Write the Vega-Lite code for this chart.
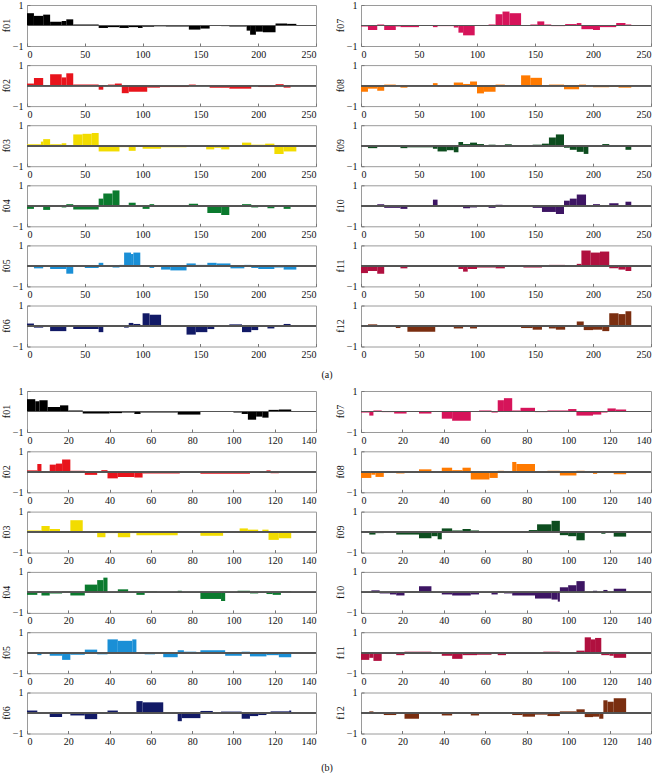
{
"$schema":"https://vega.github.io/schema/vega-lite/v6.json",
"padding":{"left":2,"top":-1,"right":0,"bottom":0},
"config":{"view":{"stroke":"#9a9a9a","strokeWidth":1},"font":"Liberation Serif",
"axis":{"labelFont":"Liberation Serif","labelFontSize":10,"labelColor":"#111","ticks":true,"tickSize":-3,"tickColor":"#777","domain":false,"grid":false,"title":null},
"axisX":{"labelPadding":6},"axisY":{"labelPadding":7},
"header":{"labelFont":"Liberation Serif","labelFontSize":10,"labelColor":"#111"},
"title":{"font":"Liberation Serif","fontSize":10,"fontWeight":"normal","color":"#111"}},
"datasets":{
"a":[
{"n":"f01","x0":0,"x1":6,"v":0.6},{"n":"f01","x0":6,"x1":14,"v":0.47},{"n":"f01","x0":14,"x1":20,"v":0.53},{"n":"f01","x0":20,"x1":30,"v":0.18},{"n":"f01","x0":30,"x1":34,"v":0.22},{"n":"f01","x0":34,"x1":40,"v":0.3},{"n":"f01","x0":40,"x1":62,"v":0.05},{"n":"f01","x0":62,"x1":70,"v":-0.12},{"n":"f01","x0":70,"x1":80,"v":-0.08},{"n":"f01","x0":80,"x1":88,"v":-0.12},{"n":"f01","x0":88,"x1":96,"v":-0.08},{"n":"f01","x0":96,"x1":100,"v":-0.12},{"n":"f01","x0":100,"x1":110,"v":-0.06},{"n":"f01","x0":110,"x1":120,"v":-0.04},{"n":"f01","x0":120,"x1":140,"v":-0.05},{"n":"f01","x0":140,"x1":150,"v":-0.2},{"n":"f01","x0":150,"x1":158,"v":-0.15},{"n":"f01","x0":158,"x1":168,"v":-0.02},{"n":"f01","x0":168,"x1":175,"v":-0.03},{"n":"f01","x0":175,"x1":190,"v":-0.05},{"n":"f01","x0":190,"x1":193,"v":-0.25},{"n":"f01","x0":193,"x1":198,"v":-0.45},{"n":"f01","x0":198,"x1":204,"v":-0.3},{"n":"f01","x0":204,"x1":215,"v":-0.33},{"n":"f01","x0":215,"x1":225,"v":0.1},{"n":"f01","x0":225,"x1":233,"v":0.08},
{"n":"f02","x0":0,"x1":6,"v":0.1},{"n":"f02","x0":6,"x1":14,"v":0.37},{"n":"f02","x0":14,"x1":20,"v":-0.03},{"n":"f02","x0":20,"x1":30,"v":0.55},{"n":"f02","x0":30,"x1":34,"v":0.4},{"n":"f02","x0":34,"x1":40,"v":0.6},{"n":"f02","x0":40,"x1":62,"v":0.05},{"n":"f02","x0":62,"x1":66,"v":-0.2},{"n":"f02","x0":66,"x1":70,"v":-0.03},{"n":"f02","x0":70,"x1":76,"v":0.05},{"n":"f02","x0":76,"x1":82,"v":0.1},{"n":"f02","x0":82,"x1":88,"v":-0.37},{"n":"f02","x0":88,"x1":104,"v":-0.3},{"n":"f02","x0":104,"x1":115,"v":-0.1},{"n":"f02","x0":115,"x1":140,"v":-0.07},{"n":"f02","x0":140,"x1":146,"v":0.05},{"n":"f02","x0":146,"x1":158,"v":-0.02},{"n":"f02","x0":158,"x1":175,"v":-0.1},{"n":"f02","x0":175,"x1":194,"v":-0.15},{"n":"f02","x0":200,"x1":215,"v":-0.07},{"n":"f02","x0":215,"x1":222,"v":0.07},{"n":"f02","x0":222,"x1":228,"v":-0.1},
{"n":"f03","x0":0,"x1":12,"v":0.07},{"n":"f03","x0":12,"x1":14,"v":0.2},{"n":"f03","x0":14,"x1":20,"v":0.32},{"n":"f03","x0":20,"x1":30,"v":0.07},{"n":"f03","x0":30,"x1":34,"v":0.12},{"n":"f03","x0":34,"x1":40,"v":0.03},{"n":"f03","x0":40,"x1":48,"v":0.55},{"n":"f03","x0":48,"x1":56,"v":0.58},{"n":"f03","x0":56,"x1":62,"v":0.62},{"n":"f03","x0":62,"x1":80,"v":-0.28},{"n":"f03","x0":80,"x1":88,"v":-0.07},{"n":"f03","x0":88,"x1":94,"v":-0.25},{"n":"f03","x0":94,"x1":100,"v":-0.05},{"n":"f03","x0":100,"x1":116,"v":-0.15},{"n":"f03","x0":116,"x1":138,"v":-0.07},{"n":"f03","x0":138,"x1":155,"v":-0.02},{"n":"f03","x0":155,"x1":162,"v":-0.18},{"n":"f03","x0":162,"x1":168,"v":-0.1},{"n":"f03","x0":168,"x1":175,"v":-0.18},{"n":"f03","x0":175,"x1":186,"v":-0.03},{"n":"f03","x0":186,"x1":194,"v":0.15},{"n":"f03","x0":194,"x1":206,"v":0.05},{"n":"f03","x0":206,"x1":214,"v":0.1},{"n":"f03","x0":214,"x1":222,"v":-0.4},{"n":"f03","x0":222,"x1":233,"v":-0.28},
{"n":"f04","x0":0,"x1":6,"v":-0.15},{"n":"f04","x0":6,"x1":14,"v":-0.05},{"n":"f04","x0":14,"x1":20,"v":-0.2},{"n":"f04","x0":20,"x1":30,"v":-0.03},{"n":"f04","x0":30,"x1":34,"v":-0.08},{"n":"f04","x0":34,"x1":40,"v":0.08},{"n":"f04","x0":40,"x1":62,"v":-0.18},{"n":"f04","x0":62,"x1":66,"v":0.35},{"n":"f04","x0":66,"x1":74,"v":0.6},{"n":"f04","x0":74,"x1":80,"v":0.75},{"n":"f04","x0":80,"x1":88,"v":0.02},{"n":"f04","x0":88,"x1":94,"v":0.15},{"n":"f04","x0":94,"x1":100,"v":-0.02},{"n":"f04","x0":100,"x1":106,"v":-0.15},{"n":"f04","x0":106,"x1":110,"v":0.08},{"n":"f04","x0":110,"x1":140,"v":-0.05},{"n":"f04","x0":140,"x1":148,"v":0.1},{"n":"f04","x0":148,"x1":156,"v":-0.02},{"n":"f04","x0":156,"x1":168,"v":-0.35},{"n":"f04","x0":168,"x1":175,"v":-0.45},{"n":"f04","x0":175,"x1":186,"v":-0.03},{"n":"f04","x0":186,"x1":194,"v":0.08},{"n":"f04","x0":194,"x1":200,"v":-0.08},{"n":"f04","x0":200,"x1":208,"v":-0.02},{"n":"f04","x0":208,"x1":214,"v":-0.12},{"n":"f04","x0":214,"x1":222,"v":-0.03},{"n":"f04","x0":222,"x1":228,"v":-0.15},{"n":"f04","x0":228,"x1":233,"v":0.02},
{"n":"f05","x0":0,"x1":6,"v":0.01},{"n":"f05","x0":6,"x1":14,"v":-0.12},{"n":"f05","x0":14,"x1":20,"v":-0.05},{"n":"f05","x0":20,"x1":34,"v":-0.15},{"n":"f05","x0":34,"x1":40,"v":-0.38},{"n":"f05","x0":40,"x1":50,"v":-0.01},{"n":"f05","x0":50,"x1":62,"v":-0.1},{"n":"f05","x0":62,"x1":66,"v":0.15},{"n":"f05","x0":66,"x1":74,"v":-0.05},{"n":"f05","x0":74,"x1":80,"v":-0.08},{"n":"f05","x0":80,"x1":84,"v":0.05},{"n":"f05","x0":84,"x1":90,"v":0.65},{"n":"f05","x0":90,"x1":92,"v":0.58},{"n":"f05","x0":92,"x1":98,"v":0.65},{"n":"f05","x0":98,"x1":100,"v":0.02},{"n":"f05","x0":100,"x1":106,"v":-0.05},{"n":"f05","x0":106,"x1":110,"v":-0.1},{"n":"f05","x0":110,"x1":116,"v":-0.03},{"n":"f05","x0":116,"x1":124,"v":-0.18},{"n":"f05","x0":124,"x1":138,"v":-0.22},{"n":"f05","x0":138,"x1":146,"v":0.12},{"n":"f05","x0":146,"x1":156,"v":0.05},{"n":"f05","x0":156,"x1":164,"v":0.15},{"n":"f05","x0":164,"x1":176,"v":0.12},{"n":"f05","x0":176,"x1":188,"v":-0.12},{"n":"f05","x0":188,"x1":194,"v":0.05},{"n":"f05","x0":194,"x1":200,"v":-0.1},{"n":"f05","x0":200,"x1":214,"v":-0.15},{"n":"f05","x0":214,"x1":222,"v":-0.08},{"n":"f05","x0":222,"x1":233,"v":-0.18},
{"n":"f06","x0":0,"x1":6,"v":0.12},{"n":"f06","x0":6,"x1":14,"v":-0.08},{"n":"f06","x0":14,"x1":20,"v":0.03},{"n":"f06","x0":20,"x1":34,"v":-0.25},{"n":"f06","x0":34,"x1":40,"v":-0.05},{"n":"f06","x0":40,"x1":62,"v":-0.15},{"n":"f06","x0":62,"x1":66,"v":-0.3},{"n":"f06","x0":66,"x1":84,"v":-0.02},{"n":"f06","x0":84,"x1":88,"v":-0.08},{"n":"f06","x0":88,"x1":92,"v":0.15},{"n":"f06","x0":92,"x1":98,"v":0.1},{"n":"f06","x0":98,"x1":100,"v":-0.05},{"n":"f06","x0":100,"x1":106,"v":0.62},{"n":"f06","x0":106,"x1":116,"v":0.55},{"n":"f06","x0":116,"x1":124,"v":0.01},{"n":"f06","x0":124,"x1":138,"v":-0.05},{"n":"f06","x0":138,"x1":146,"v":-0.42},{"n":"f06","x0":146,"x1":156,"v":-0.3},{"n":"f06","x0":156,"x1":162,"v":-0.15},{"n":"f06","x0":162,"x1":168,"v":0.05},{"n":"f06","x0":168,"x1":175,"v":-0.02},{"n":"f06","x0":175,"x1":186,"v":0.08},{"n":"f06","x0":186,"x1":194,"v":-0.3},{"n":"f06","x0":194,"x1":200,"v":-0.2},{"n":"f06","x0":200,"x1":208,"v":0.02},{"n":"f06","x0":208,"x1":214,"v":-0.12},{"n":"f06","x0":214,"x1":222,"v":-0.05},{"n":"f06","x0":222,"x1":228,"v":0.1},{"n":"f06","x0":228,"x1":233,"v":0.05},
{"n":"f07","x0":0,"x1":6,"v":-0.05},{"n":"f07","x0":6,"x1":14,"v":-0.22},{"n":"f07","x0":14,"x1":20,"v":0.05},{"n":"f07","x0":20,"x1":30,"v":-0.22},{"n":"f07","x0":30,"x1":34,"v":-0.05},{"n":"f07","x0":34,"x1":50,"v":-0.08},{"n":"f07","x0":50,"x1":62,"v":-0.02},{"n":"f07","x0":62,"x1":66,"v":-0.08},{"n":"f07","x0":66,"x1":80,"v":-0.03},{"n":"f07","x0":80,"x1":84,"v":-0.1},{"n":"f07","x0":84,"x1":88,"v":-0.35},{"n":"f07","x0":88,"x1":98,"v":-0.48},{"n":"f07","x0":98,"x1":110,"v":0.01},{"n":"f07","x0":110,"x1":116,"v":0.05},{"n":"f07","x0":116,"x1":122,"v":0.55},{"n":"f07","x0":122,"x1":128,"v":0.68},{"n":"f07","x0":128,"x1":138,"v":0.6},{"n":"f07","x0":138,"x1":146,"v":0.01},{"n":"f07","x0":146,"x1":152,"v":0.05},{"n":"f07","x0":152,"x1":158,"v":0.2},{"n":"f07","x0":158,"x1":164,"v":0.05},{"n":"f07","x0":164,"x1":176,"v":-0.03},{"n":"f07","x0":176,"x1":186,"v":0.07},{"n":"f07","x0":186,"x1":190,"v":0.12},{"n":"f07","x0":190,"x1":200,"v":-0.18},{"n":"f07","x0":200,"x1":206,"v":-0.22},{"n":"f07","x0":206,"x1":220,"v":-0.08},{"n":"f07","x0":220,"x1":228,"v":0.12},{"n":"f07","x0":228,"x1":233,"v":0.05},
{"n":"f08","x0":0,"x1":6,"v":-0.3},{"n":"f08","x0":6,"x1":14,"v":-0.15},{"n":"f08","x0":14,"x1":20,"v":-0.25},{"n":"f08","x0":20,"x1":30,"v":0.05},{"n":"f08","x0":30,"x1":34,"v":-0.02},{"n":"f08","x0":34,"x1":40,"v":-0.1},{"n":"f08","x0":40,"x1":62,"v":-0.02},{"n":"f08","x0":62,"x1":66,"v":0.12},{"n":"f08","x0":66,"x1":80,"v":-0.05},{"n":"f08","x0":80,"x1":88,"v":0.15},{"n":"f08","x0":88,"x1":94,"v":0.08},{"n":"f08","x0":94,"x1":100,"v":0.2},{"n":"f08","x0":100,"x1":106,"v":-0.38},{"n":"f08","x0":106,"x1":116,"v":-0.3},{"n":"f08","x0":116,"x1":124,"v":0.05},{"n":"f08","x0":124,"x1":138,"v":0.02},{"n":"f08","x0":138,"x1":146,"v":0.5},{"n":"f08","x0":146,"x1":156,"v":0.38},{"n":"f08","x0":156,"x1":162,"v":0.01},{"n":"f08","x0":162,"x1":175,"v":0.05},{"n":"f08","x0":175,"x1":188,"v":-0.18},{"n":"f08","x0":188,"x1":194,"v":0.05},{"n":"f08","x0":194,"x1":200,"v":0.02},{"n":"f08","x0":200,"x1":214,"v":-0.08},{"n":"f08","x0":214,"x1":222,"v":-0.05},{"n":"f08","x0":222,"x1":233,"v":-0.1},
{"n":"f09","x0":6,"x1":14,"v":-0.12},{"n":"f09","x0":14,"x1":34,"v":-0.05},{"n":"f09","x0":34,"x1":40,"v":-0.12},{"n":"f09","x0":40,"x1":62,"v":-0.08},{"n":"f09","x0":62,"x1":66,"v":-0.15},{"n":"f09","x0":66,"x1":74,"v":-0.28},{"n":"f09","x0":74,"x1":80,"v":-0.22},{"n":"f09","x0":80,"x1":84,"v":-0.32},{"n":"f09","x0":84,"x1":88,"v":0.18},{"n":"f09","x0":88,"x1":94,"v":0.08},{"n":"f09","x0":94,"x1":100,"v":0.15},{"n":"f09","x0":100,"x1":106,"v":0.08},{"n":"f09","x0":106,"x1":110,"v":0.01},{"n":"f09","x0":110,"x1":116,"v":0.05},{"n":"f09","x0":116,"x1":124,"v":0.01},{"n":"f09","x0":124,"x1":130,"v":0.07},{"n":"f09","x0":130,"x1":148,"v":0.01},{"n":"f09","x0":148,"x1":156,"v":0.05},{"n":"f09","x0":156,"x1":162,"v":0.1},{"n":"f09","x0":162,"x1":168,"v":0.4},{"n":"f09","x0":168,"x1":175,"v":0.55},{"n":"f09","x0":175,"x1":180,"v":-0.1},{"n":"f09","x0":180,"x1":186,"v":-0.2},{"n":"f09","x0":186,"x1":192,"v":-0.3},{"n":"f09","x0":192,"x1":196,"v":-0.4},{"n":"f09","x0":196,"x1":208,"v":-0.02},{"n":"f09","x0":208,"x1":214,"v":0.08},{"n":"f09","x0":214,"x1":222,"v":-0.05},{"n":"f09","x0":222,"x1":228,"v":0.02},{"n":"f09","x0":228,"x1":233,"v":-0.2},
{"n":"f10","x0":0,"x1":14,"v":-0.02},{"n":"f10","x0":14,"x1":20,"v":0.08},{"n":"f10","x0":20,"x1":34,"v":-0.1},{"n":"f10","x0":34,"x1":40,"v":-0.15},{"n":"f10","x0":40,"x1":62,"v":0.02},{"n":"f10","x0":62,"x1":66,"v":0.3},{"n":"f10","x0":66,"x1":80,"v":0.01},{"n":"f10","x0":80,"x1":88,"v":-0.05},{"n":"f10","x0":88,"x1":94,"v":-0.12},{"n":"f10","x0":94,"x1":100,"v":-0.08},{"n":"f10","x0":100,"x1":110,"v":0.01},{"n":"f10","x0":110,"x1":116,"v":-0.1},{"n":"f10","x0":116,"x1":122,"v":0.05},{"n":"f10","x0":122,"x1":128,"v":-0.05},{"n":"f10","x0":128,"x1":140,"v":0.01},{"n":"f10","x0":140,"x1":148,"v":-0.03},{"n":"f10","x0":148,"x1":156,"v":-0.1},{"n":"f10","x0":156,"x1":168,"v":-0.3},{"n":"f10","x0":168,"x1":175,"v":-0.4},{"n":"f10","x0":175,"x1":180,"v":0.25},{"n":"f10","x0":180,"x1":186,"v":0.35},{"n":"f10","x0":186,"x1":194,"v":0.55},{"n":"f10","x0":194,"x1":200,"v":0.01},{"n":"f10","x0":200,"x1":206,"v":0.08},{"n":"f10","x0":206,"x1":214,"v":0.01},{"n":"f10","x0":214,"x1":222,"v":0.12},{"n":"f10","x0":222,"x1":228,"v":0.02},{"n":"f10","x0":228,"x1":233,"v":0.2},
{"n":"f11","x0":0,"x1":6,"v":-0.35},{"n":"f11","x0":6,"x1":14,"v":-0.25},{"n":"f11","x0":14,"x1":20,"v":-0.38},{"n":"f11","x0":20,"x1":34,"v":-0.05},{"n":"f11","x0":34,"x1":40,"v":-0.12},{"n":"f11","x0":40,"x1":62,"v":0.03},{"n":"f11","x0":62,"x1":66,"v":0.02},{"n":"f11","x0":66,"x1":84,"v":0.01},{"n":"f11","x0":84,"x1":88,"v":-0.15},{"n":"f11","x0":88,"x1":92,"v":-0.28},{"n":"f11","x0":92,"x1":100,"v":-0.15},{"n":"f11","x0":100,"x1":116,"v":-0.08},{"n":"f11","x0":116,"x1":124,"v":-0.12},{"n":"f11","x0":124,"x1":140,"v":-0.05},{"n":"f11","x0":140,"x1":156,"v":-0.08},{"n":"f11","x0":156,"x1":162,"v":0.01},{"n":"f11","x0":162,"x1":176,"v":0.05},{"n":"f11","x0":176,"x1":186,"v":0.02},{"n":"f11","x0":186,"x1":190,"v":0.1},{"n":"f11","x0":190,"x1":198,"v":0.75},{"n":"f11","x0":198,"x1":206,"v":0.65},{"n":"f11","x0":206,"x1":214,"v":0.7},{"n":"f11","x0":214,"x1":222,"v":-0.12},{"n":"f11","x0":222,"x1":228,"v":-0.18},{"n":"f11","x0":228,"x1":233,"v":-0.25},
{"n":"f12","x0":0,"x1":6,"v":0.02},{"n":"f12","x0":6,"x1":14,"v":0.08},{"n":"f12","x0":14,"x1":30,"v":0.01},{"n":"f12","x0":30,"x1":34,"v":-0.1},{"n":"f12","x0":34,"x1":40,"v":0.01},{"n":"f12","x0":40,"x1":64,"v":-0.28},{"n":"f12","x0":64,"x1":80,"v":-0.05},{"n":"f12","x0":80,"x1":88,"v":-0.12},{"n":"f12","x0":88,"x1":94,"v":0.01},{"n":"f12","x0":94,"x1":100,"v":-0.12},{"n":"f12","x0":100,"x1":110,"v":0.05},{"n":"f12","x0":110,"x1":124,"v":0.02},{"n":"f12","x0":124,"x1":138,"v":-0.02},{"n":"f12","x0":138,"x1":148,"v":-0.1},{"n":"f12","x0":148,"x1":156,"v":-0.18},{"n":"f12","x0":156,"x1":162,"v":-0.05},{"n":"f12","x0":162,"x1":168,"v":-0.12},{"n":"f12","x0":168,"x1":176,"v":-0.18},{"n":"f12","x0":176,"x1":186,"v":0.05},{"n":"f12","x0":186,"x1":192,"v":0.22},{"n":"f12","x0":192,"x1":200,"v":-0.2},{"n":"f12","x0":200,"x1":208,"v":-0.18},{"n":"f12","x0":208,"x1":214,"v":-0.25},{"n":"f12","x0":214,"x1":222,"v":0.62},{"n":"f12","x0":222,"x1":228,"v":0.58},{"n":"f12","x0":228,"x1":233,"v":0.72}
],
"b":[
{"n":"f01","x0":0,"x1":4,"v":0.6},{"n":"f01","x0":4,"x1":6,"v":0.5},{"n":"f01","x0":6,"x1":10,"v":0.55},{"n":"f01","x0":10,"x1":16,"v":0.22},{"n":"f01","x0":16,"x1":20,"v":0.3},{"n":"f01","x0":20,"x1":27,"v":0.05},{"n":"f01","x0":27,"x1":40,"v":-0.1},{"n":"f01","x0":40,"x1":46,"v":-0.08},{"n":"f01","x0":46,"x1":52,"v":-0.05},{"n":"f01","x0":52,"x1":55,"v":-0.12},{"n":"f01","x0":55,"x1":73,"v":-0.05},{"n":"f01","x0":73,"x1":84,"v":-0.15},{"n":"f01","x0":84,"x1":100,"v":-0.02},{"n":"f01","x0":100,"x1":104,"v":-0.05},{"n":"f01","x0":104,"x1":107,"v":-0.12},{"n":"f01","x0":107,"x1":111,"v":-0.4},{"n":"f01","x0":111,"x1":114,"v":-0.25},{"n":"f01","x0":114,"x1":117,"v":-0.3},{"n":"f01","x0":117,"x1":122,"v":0.08},{"n":"f01","x0":122,"x1":128,"v":0.1},
{"n":"f02","x0":0,"x1":5,"v":0.07},{"n":"f02","x0":5,"x1":7,"v":0.38},{"n":"f02","x0":7,"x1":11,"v":-0.02},{"n":"f02","x0":11,"x1":14,"v":0.35},{"n":"f02","x0":14,"x1":17,"v":0.4},{"n":"f02","x0":17,"x1":21,"v":0.6},{"n":"f02","x0":21,"x1":28,"v":0.05},{"n":"f02","x0":28,"x1":34,"v":-0.15},{"n":"f02","x0":36,"x1":39,"v":0.08},{"n":"f02","x0":39,"x1":44,"v":-0.32},{"n":"f02","x0":44,"x1":52,"v":-0.25},{"n":"f02","x0":52,"x1":56,"v":-0.28},{"n":"f02","x0":56,"x1":74,"v":-0.08},{"n":"f02","x0":74,"x1":76,"v":0.04},{"n":"f02","x0":76,"x1":84,"v":-0.02},{"n":"f02","x0":84,"x1":108,"v":-0.1},{"n":"f02","x0":112,"x1":116,"v":-0.05},{"n":"f02","x0":116,"x1":118,"v":0.07},{"n":"f02","x0":118,"x1":122,"v":-0.07},
{"n":"f03","x0":0,"x1":7,"v":0.08},{"n":"f03","x0":7,"x1":11,"v":0.3},{"n":"f03","x0":11,"x1":16,"v":0.15},{"n":"f03","x0":16,"x1":21,"v":0.05},{"n":"f03","x0":21,"x1":27,"v":0.58},{"n":"f03","x0":34,"x1":38,"v":-0.25},{"n":"f03","x0":38,"x1":44,"v":-0.05},{"n":"f03","x0":44,"x1":50,"v":-0.25},{"n":"f03","x0":50,"x1":53,"v":-0.05},{"n":"f03","x0":53,"x1":73,"v":-0.15},{"n":"f03","x0":73,"x1":84,"v":-0.02},{"n":"f03","x0":84,"x1":95,"v":-0.18},{"n":"f03","x0":95,"x1":103,"v":-0.02},{"n":"f03","x0":103,"x1":107,"v":0.18},{"n":"f03","x0":107,"x1":112,"v":0.12},{"n":"f03","x0":114,"x1":117,"v":0.12},{"n":"f03","x0":117,"x1":122,"v":-0.38},{"n":"f03","x0":122,"x1":128,"v":-0.3},
{"n":"f04","x0":0,"x1":5,"v":-0.12},{"n":"f04","x0":5,"x1":7,"v":0.05},{"n":"f04","x0":7,"x1":11,"v":-0.15},{"n":"f04","x0":11,"x1":17,"v":-0.05},{"n":"f04","x0":17,"x1":21,"v":0.05},{"n":"f04","x0":21,"x1":28,"v":-0.15},{"n":"f04","x0":28,"x1":34,"v":0.38},{"n":"f04","x0":34,"x1":37,"v":0.6},{"n":"f04","x0":37,"x1":39,"v":0.72},{"n":"f04","x0":44,"x1":49,"v":0.15},{"n":"f04","x0":53,"x1":57,"v":-0.12},{"n":"f04","x0":57,"x1":63,"v":0.05},{"n":"f04","x0":63,"x1":73,"v":-0.02},{"n":"f04","x0":73,"x1":75,"v":0.08},{"n":"f04","x0":75,"x1":84,"v":0.02},{"n":"f04","x0":84,"x1":94,"v":-0.32},{"n":"f04","x0":94,"x1":96,"v":-0.42},{"n":"f04","x0":96,"x1":102,"v":0.02},{"n":"f04","x0":102,"x1":108,"v":0.08},{"n":"f04","x0":108,"x1":112,"v":-0.05},{"n":"f04","x0":116,"x1":119,"v":-0.08},{"n":"f04","x0":119,"x1":123,"v":-0.12},{"n":"f04","x0":123,"x1":128,"v":0.05},
{"n":"f05","x0":5,"x1":7,"v":-0.12},{"n":"f05","x0":11,"x1":17,"v":-0.15},{"n":"f05","x0":17,"x1":21,"v":-0.35},{"n":"f05","x0":21,"x1":28,"v":-0.1},{"n":"f05","x0":28,"x1":34,"v":0.15},{"n":"f05","x0":34,"x1":39,"v":-0.08},{"n":"f05","x0":39,"x1":44,"v":0.65},{"n":"f05","x0":44,"x1":51,"v":0.58},{"n":"f05","x0":51,"x1":53,"v":0.65},{"n":"f05","x0":57,"x1":62,"v":-0.08},{"n":"f05","x0":66,"x1":73,"v":-0.22},{"n":"f05","x0":73,"x1":76,"v":0.12},{"n":"f05","x0":76,"x1":82,"v":0.05},{"n":"f05","x0":84,"x1":96,"v":0.12},{"n":"f05","x0":96,"x1":104,"v":-0.15},{"n":"f05","x0":104,"x1":108,"v":0.05},{"n":"f05","x0":108,"x1":116,"v":-0.18},{"n":"f05","x0":116,"x1":122,"v":-0.12},{"n":"f05","x0":122,"x1":128,"v":-0.22},
{"n":"f06","x0":0,"x1":5,"v":0.12},{"n":"f06","x0":5,"x1":7,"v":-0.05},{"n":"f06","x0":11,"x1":17,"v":-0.2},{"n":"f06","x0":21,"x1":28,"v":-0.12},{"n":"f06","x0":28,"x1":34,"v":-0.3},{"n":"f06","x0":36,"x1":39,"v":-0.05},{"n":"f06","x0":39,"x1":44,"v":0.12},{"n":"f06","x0":44,"x1":53,"v":-0.03},{"n":"f06","x0":53,"x1":56,"v":0.58},{"n":"f06","x0":56,"x1":66,"v":0.52},{"n":"f06","x0":70,"x1":73,"v":-0.05},{"n":"f06","x0":73,"x1":75,"v":-0.4},{"n":"f06","x0":75,"x1":84,"v":-0.25},{"n":"f06","x0":84,"x1":90,"v":0.1},{"n":"f06","x0":94,"x1":104,"v":0.07},{"n":"f06","x0":104,"x1":108,"v":-0.28},{"n":"f06","x0":108,"x1":112,"v":-0.15},{"n":"f06","x0":112,"x1":116,"v":-0.1},{"n":"f06","x0":116,"x1":118,"v":-0.05},{"n":"f06","x0":118,"x1":127,"v":0.08},{"n":"f06","x0":127,"x1":128,"v":0.12},
{"n":"f07","x0":0,"x1":4,"v":-0.05},{"n":"f07","x0":4,"x1":6,"v":-0.2},{"n":"f07","x0":6,"x1":10,"v":0.05},{"n":"f07","x0":10,"x1":16,"v":-0.03},{"n":"f07","x0":16,"x1":22,"v":-0.1},{"n":"f07","x0":28,"x1":34,"v":-0.1},{"n":"f07","x0":39,"x1":44,"v":-0.35},{"n":"f07","x0":44,"x1":53,"v":-0.45},{"n":"f07","x0":57,"x1":63,"v":0.05},{"n":"f07","x0":63,"x1":66,"v":-0.05},{"n":"f07","x0":66,"x1":69,"v":0.55},{"n":"f07","x0":69,"x1":73,"v":0.65},{"n":"f07","x0":73,"x1":77,"v":0.05},{"n":"f07","x0":77,"x1":84,"v":0.18},{"n":"f07","x0":84,"x1":90,"v":-0.03},{"n":"f07","x0":90,"x1":100,"v":0.05},{"n":"f07","x0":100,"x1":104,"v":0.12},{"n":"f07","x0":104,"x1":112,"v":-0.2},{"n":"f07","x0":112,"x1":116,"v":-0.15},{"n":"f07","x0":116,"x1":119,"v":-0.05},{"n":"f07","x0":119,"x1":123,"v":0.15},{"n":"f07","x0":123,"x1":128,"v":0.1},
{"n":"f08","x0":0,"x1":5,"v":-0.3},{"n":"f08","x0":5,"x1":7,"v":-0.15},{"n":"f08","x0":7,"x1":11,"v":-0.25},{"n":"f08","x0":17,"x1":21,"v":-0.08},{"n":"f08","x0":21,"x1":28,"v":-0.03},{"n":"f08","x0":28,"x1":34,"v":0.12},{"n":"f08","x0":39,"x1":44,"v":0.2},{"n":"f08","x0":44,"x1":49,"v":0.08},{"n":"f08","x0":49,"x1":53,"v":0.2},{"n":"f08","x0":53,"x1":62,"v":-0.38},{"n":"f08","x0":62,"x1":66,"v":-0.3},{"n":"f08","x0":66,"x1":69,"v":0.05},{"n":"f08","x0":73,"x1":75,"v":0.48},{"n":"f08","x0":75,"x1":84,"v":0.38},{"n":"f08","x0":90,"x1":96,"v":0.05},{"n":"f08","x0":96,"x1":104,"v":-0.18},{"n":"f08","x0":104,"x1":108,"v":0.05},{"n":"f08","x0":112,"x1":114,"v":-0.1},{"n":"f08","x0":114,"x1":122,"v":-0.05},{"n":"f08","x0":122,"x1":128,"v":-0.12},
{"n":"f09","x0":4,"x1":7,"v":-0.12},{"n":"f09","x0":7,"x1":11,"v":-0.05},{"n":"f09","x0":17,"x1":28,"v":-0.12},{"n":"f09","x0":28,"x1":34,"v":-0.3},{"n":"f09","x0":34,"x1":37,"v":-0.2},{"n":"f09","x0":37,"x1":39,"v":-0.35},{"n":"f09","x0":39,"x1":44,"v":0.18},{"n":"f09","x0":44,"x1":49,"v":0.08},{"n":"f09","x0":49,"x1":53,"v":0.15},{"n":"f09","x0":53,"x1":57,"v":0.08},{"n":"f09","x0":57,"x1":60,"v":-0.02},{"n":"f09","x0":60,"x1":63,"v":0.05},{"n":"f09","x0":68,"x1":72,"v":0.05},{"n":"f09","x0":77,"x1":81,"v":0.05},{"n":"f09","x0":81,"x1":85,"v":0.1},{"n":"f09","x0":85,"x1":92,"v":0.38},{"n":"f09","x0":92,"x1":96,"v":0.55},{"n":"f09","x0":96,"x1":100,"v":-0.15},{"n":"f09","x0":100,"x1":104,"v":-0.2},{"n":"f09","x0":104,"x1":108,"v":-0.4},{"n":"f09","x0":112,"x1":116,"v":0.05},{"n":"f09","x0":116,"x1":118,"v":-0.08},{"n":"f09","x0":122,"x1":128,"v":-0.22},
{"n":"f10","x0":0,"x1":5,"v":-0.02},{"n":"f10","x0":5,"x1":9,"v":0.1},{"n":"f10","x0":9,"x1":14,"v":-0.05},{"n":"f10","x0":14,"x1":17,"v":-0.1},{"n":"f10","x0":17,"x1":21,"v":-0.15},{"n":"f10","x0":21,"x1":28,"v":0.05},{"n":"f10","x0":28,"x1":34,"v":0.3},{"n":"f10","x0":39,"x1":44,"v":-0.1},{"n":"f10","x0":44,"x1":53,"v":-0.15},{"n":"f10","x0":53,"x1":57,"v":-0.1},{"n":"f10","x0":63,"x1":66,"v":-0.1},{"n":"f10","x0":66,"x1":69,"v":0.05},{"n":"f10","x0":69,"x1":73,"v":-0.05},{"n":"f10","x0":73,"x1":84,"v":-0.15},{"n":"f10","x0":84,"x1":92,"v":-0.3},{"n":"f10","x0":92,"x1":95,"v":-0.35},{"n":"f10","x0":95,"x1":96,"v":-0.45},{"n":"f10","x0":96,"x1":100,"v":0.25},{"n":"f10","x0":100,"x1":104,"v":0.35},{"n":"f10","x0":104,"x1":108,"v":0.55},{"n":"f10","x0":112,"x1":114,"v":0.08},{"n":"f10","x0":117,"x1":119,"v":0.12},{"n":"f10","x0":119,"x1":122,"v":0.02},{"n":"f10","x0":122,"x1":128,"v":0.18},
{"n":"f11","x0":0,"x1":4,"v":-0.35},{"n":"f11","x0":4,"x1":6,"v":-0.25},{"n":"f11","x0":6,"x1":10,"v":-0.4},{"n":"f11","x0":10,"x1":17,"v":-0.05},{"n":"f11","x0":17,"x1":21,"v":-0.12},{"n":"f11","x0":21,"x1":34,"v":0.05},{"n":"f11","x0":39,"x1":44,"v":-0.15},{"n":"f11","x0":44,"x1":49,"v":-0.3},{"n":"f11","x0":49,"x1":56,"v":-0.12},{"n":"f11","x0":56,"x1":63,"v":-0.1},{"n":"f11","x0":63,"x1":66,"v":-0.05},{"n":"f11","x0":66,"x1":70,"v":-0.12},{"n":"f11","x0":70,"x1":84,"v":-0.05},{"n":"f11","x0":88,"x1":96,"v":0.05},{"n":"f11","x0":96,"x1":100,"v":0.03},{"n":"f11","x0":104,"x1":108,"v":0.1},{"n":"f11","x0":108,"x1":111,"v":0.75},{"n":"f11","x0":111,"x1":113,"v":0.65},{"n":"f11","x0":113,"x1":116,"v":0.72},{"n":"f11","x0":116,"x1":120,"v":-0.12},{"n":"f11","x0":120,"x1":122,"v":-0.15},{"n":"f11","x0":122,"x1":128,"v":-0.25},
{"n":"f12","x0":0,"x1":4,"v":0.03},{"n":"f12","x0":4,"x1":6,"v":0.08},{"n":"f12","x0":11,"x1":17,"v":-0.1},{"n":"f12","x0":21,"x1":28,"v":-0.28},{"n":"f12","x0":34,"x1":39,"v":-0.05},{"n":"f12","x0":39,"x1":44,"v":-0.12},{"n":"f12","x0":44,"x1":53,"v":-0.03},{"n":"f12","x0":53,"x1":57,"v":-0.12},{"n":"f12","x0":57,"x1":66,"v":0.05},{"n":"f12","x0":66,"x1":70,"v":0.03},{"n":"f12","x0":73,"x1":78,"v":-0.1},{"n":"f12","x0":78,"x1":84,"v":-0.18},{"n":"f12","x0":84,"x1":90,"v":-0.08},{"n":"f12","x0":90,"x1":96,"v":-0.15},{"n":"f12","x0":96,"x1":104,"v":0.08},{"n":"f12","x0":104,"x1":108,"v":0.18},{"n":"f12","x0":108,"x1":112,"v":-0.2},{"n":"f12","x0":112,"x1":115,"v":-0.18},{"n":"f12","x0":115,"x1":117,"v":-0.28},{"n":"f12","x0":117,"x1":119,"v":0.62},{"n":"f12","x0":119,"x1":122,"v":0.55},{"n":"f12","x0":122,"x1":128,"v":0.72}
]},
"spacing":5,
"vconcat":[
{"title":{"text":"(a)","orient":"bottom","anchor":"middle","offset":10},"spacing":19,
"hconcat":[
{"data":{"name":"a"},"transform":[{"filter":{"field":"n","oneOf":["f01","f02","f03","f04","f05","f06"]}}],
"facet":{"row":{"field":"n","type":"nominal","title":null,"header":{"labelAngle":-90,"labelOrient":"left","labelPadding":10}}},
"spacing":19.1,"bounds":"flush","resolve":{"axis":{"x":"independent","y":"independent"}},
"spec":{"width":289,"height":41,"layer":[
{"mark":{"type":"rect"},"encoding":{"x":{"field":"x0","type":"quantitative","scale":{"domain":[0,250],"nice":false},"axis":{"values":[0,50,100,150,200,250]}},"x2":{"field":"x1"},"y":{"field":"v","type":"quantitative","scale":{"domain":[-1,1]},"axis":{"values":[-1,0,1]}},"y2":{"datum":0},"color":{"field":"n","type":"nominal","legend":null,"scale":{"domain":["f01","f02","f03","f04","f05","f06","f07","f08","f09","f10","f11","f12"],"range":["#000000","#e8141c","#f2dc00","#0b7a2e","#1a8fd6","#121a66","#d6145a","#ff7a00","#0d4d1f","#3d1563","#b0103f","#7a2e10"]}}}},
{"mark":{"type":"rule","color":"#555","strokeWidth":1},"encoding":{"y":{"datum":0}}}]}},
{"data":{"name":"a"},"transform":[{"filter":{"field":"n","oneOf":["f07","f08","f09","f10","f11","f12"]}}],
"facet":{"row":{"field":"n","type":"nominal","title":null,"header":{"labelAngle":-90,"labelOrient":"left","labelPadding":10}}},
"spacing":19.1,"bounds":"flush","resolve":{"axis":{"x":"independent","y":"independent"}},
"spec":{"width":290,"height":41,"layer":[
{"mark":{"type":"rect"},"encoding":{"x":{"field":"x0","type":"quantitative","scale":{"domain":[0,250],"nice":false},"axis":{"values":[0,50,100,150,200,250]}},"x2":{"field":"x1"},"y":{"field":"v","type":"quantitative","scale":{"domain":[-1,1]},"axis":{"values":[-1,0,1]}},"y2":{"datum":0},"color":{"field":"n","type":"nominal","legend":null,"scale":{"domain":["f01","f02","f03","f04","f05","f06","f07","f08","f09","f10","f11","f12"],"range":["#000000","#e8141c","#f2dc00","#0b7a2e","#1a8fd6","#121a66","#d6145a","#ff7a00","#0d4d1f","#3d1563","#b0103f","#7a2e10"]}}}},
{"mark":{"type":"rule","color":"#555","strokeWidth":1},"encoding":{"y":{"datum":0}}}]}}
]},
{"title":{"text":"(b)","orient":"bottom","anchor":"middle","offset":16},"spacing":19,
"hconcat":[
{"data":{"name":"b"},"transform":[{"filter":{"field":"n","oneOf":["f01","f02","f03","f04","f05","f06"]}}],
"facet":{"row":{"field":"n","type":"nominal","title":null,"header":{"labelAngle":-90,"labelOrient":"left","labelPadding":10}}},
"spacing":19.3,"bounds":"flush","resolve":{"axis":{"x":"independent","y":"independent"}},
"spec":{"width":289,"height":41,"layer":[
{"mark":{"type":"rect"},"encoding":{"x":{"field":"x0","type":"quantitative","scale":{"domain":[0,140],"nice":false},"axis":{"values":[0,20,40,60,80,100,120,140]}},"x2":{"field":"x1"},"y":{"field":"v","type":"quantitative","scale":{"domain":[-1,1]},"axis":{"values":[-1,0,1]}},"y2":{"datum":0},"color":{"field":"n","type":"nominal","legend":null,"scale":{"domain":["f01","f02","f03","f04","f05","f06","f07","f08","f09","f10","f11","f12"],"range":["#000000","#e8141c","#f2dc00","#0b7a2e","#1a8fd6","#121a66","#d6145a","#ff7a00","#0d4d1f","#3d1563","#b0103f","#7a2e10"]}}}},
{"mark":{"type":"rule","color":"#555","strokeWidth":1},"encoding":{"y":{"datum":0}}}]}},
{"data":{"name":"b"},"transform":[{"filter":{"field":"n","oneOf":["f07","f08","f09","f10","f11","f12"]}}],
"facet":{"row":{"field":"n","type":"nominal","title":null,"header":{"labelAngle":-90,"labelOrient":"left","labelPadding":10}}},
"spacing":19.3,"bounds":"flush","resolve":{"axis":{"x":"independent","y":"independent"}},
"spec":{"width":290,"height":41,"layer":[
{"mark":{"type":"rect"},"encoding":{"x":{"field":"x0","type":"quantitative","scale":{"domain":[0,140],"nice":false},"axis":{"values":[0,20,40,60,80,100,120,140]}},"x2":{"field":"x1"},"y":{"field":"v","type":"quantitative","scale":{"domain":[-1,1]},"axis":{"values":[-1,0,1]}},"y2":{"datum":0},"color":{"field":"n","type":"nominal","legend":null,"scale":{"domain":["f01","f02","f03","f04","f05","f06","f07","f08","f09","f10","f11","f12"],"range":["#000000","#e8141c","#f2dc00","#0b7a2e","#1a8fd6","#121a66","#d6145a","#ff7a00","#0d4d1f","#3d1563","#b0103f","#7a2e10"]}}}},
{"mark":{"type":"rule","color":"#555","strokeWidth":1},"encoding":{"y":{"datum":0}}}]}}
]}
]
}
